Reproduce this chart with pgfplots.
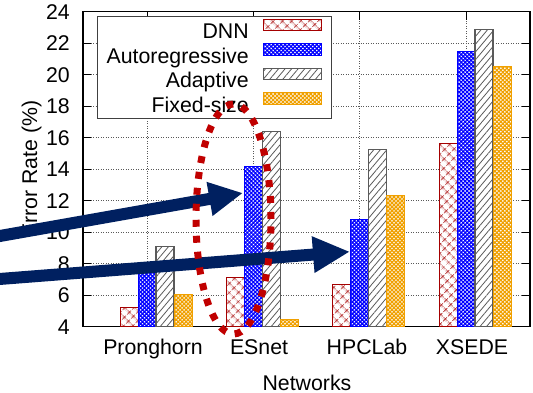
\documentclass[border=0pt]{standalone}
\usepackage{fontspec}
\setmainfont{Liberation Sans}
\usepackage{pgfplots}
\pgfplotsset{compat=1.18}
\usetikzlibrary{patterns.meta,arrows.meta}
\definecolor{dnnred}{HTML}{A50000}
\definecolor{autoblue}{HTML}{0000FF}
\definecolor{adagray}{HTML}{5A5A5A}
\definecolor{fixorange}{HTML}{F0A000}
\definecolor{navy}{HTML}{002060}
\definecolor{ellred}{HTML}{C00000}
\begin{document}
\begin{tikzpicture}[x=1pt,y=1pt]
\useasboundingbox (0,0) rectangle (533,393);
\begin{axis}[
  at={(83pt,66.3pt)}, anchor=south west,
  scale only axis, width=447pt, height=315pt,
  font=\fontsize{21.3}{25}\selectfont,
  ybar=0pt, bar width=18pt,
  xmin=-0.6865, xmax=3.517, ymin=4, ymax=24,
  ytick={4,6,...,24},
  xtick={-0.085,0.915,1.915,2.915}, xticklabels={},
  extra x ticks={-0.028,0.969,1.984,2.972},
  extra x tick labels={Pronghorn,ESnet,HPCLab,XSEDE},
  extra x tick style={major tick length=0pt, grid=none},
  xmajorgrids, ymajorgrids,
  grid style={black!65, line width=0.6pt, dash pattern=on 1pt off 1.5pt},
  xtick pos=both, ytick pos=both, tick align=inside,
  major tick length=8pt,
  tick style={black, line width=0.8pt},
  axis line style={black, line width=1.2pt},
  /pgf/number format/assume math mode=true,
  xticklabel style={anchor=base, inner sep=0pt, yshift=-28.3pt},
  yticklabel style={anchor=east, inner sep=0pt, xshift=-13pt},
  ylabel={Error Rate (\%)},
  ylabel style={at={(axis description cs:-0.1029,0.5)}, anchor=base, inner sep=0pt},
  xlabel={Networks},
  xlabel style={at={(axis description cs:0.501,-0.201)}, anchor=base, inner sep=0pt},
  legend style={at={(rel axis cs:0.0306,0.9863)}, anchor=north west,
    draw=black!75, line width=1pt, fill=white,
    inner xsep=9.5pt, inner ysep=2pt, column sep=14pt, row sep=0pt,
    nodes={inner sep=0pt, text height=17pt, text depth=4.5pt}},
  legend cell align=right, legend plot pos=right,
  legend image code/.code={\draw[#1] (0pt,1.7pt) rectangle (58pt,13.3pt);},
]
\addplot[draw=dnnred, line width=1pt, fill=white,
  postaction={pattern={Hatch[angle=45,distance=6.4pt,line width=0.9pt]}, pattern color=dnnred}]
  coordinates {(0,5.2) (1,7.15) (2,6.65) (3,15.64)};
\addplot[draw=autoblue, line width=1pt, fill=white,
  postaction={pattern={Hatch[angle=45,distance=2.8pt,line width=1.25pt]}, pattern color=autoblue}]
  coordinates {(0,7.8) (1,14.15) (2,10.82) (3,21.46)};
\addplot[draw=adagray, line width=1.2pt, fill=white,
  postaction={pattern={Lines[angle=50,distance=5pt,line width=0.8pt]}, pattern color=adagray}]
  coordinates {(0,9.1) (1,16.4) (2,15.26) (3,22.88)};
\addplot[draw=fixorange, line width=1pt, fill=white,
  postaction={pattern={Hatch[angle=45,distance=2.8pt,line width=1.25pt]}, pattern color=fixorange}]
  coordinates {(0,6.05) (1,4.47) (2,12.32) (3,20.51)};
\legend{DNN,Autoregressive,Adaptive,Fixed-size}
\end{axis}
\draw[navy, line width=12pt, -{Triangle[length=34pt,width=32pt]}] (-12,154.9) -- (243,200);
\draw[navy, line width=12pt, -{Triangle[length=37pt,width=34pt]}] (-12,113.1) -- (350,141.3);
\draw[ellred, line width=7pt, dash pattern=on 7pt off 9pt] (233.5,174) ellipse [x radius=37.5, y radius=115];
\end{tikzpicture}
\end{document}
